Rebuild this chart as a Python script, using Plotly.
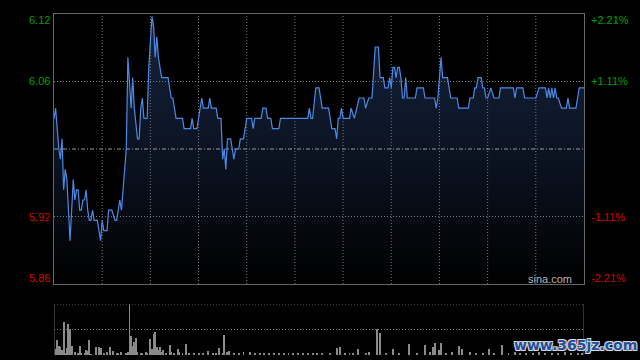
import plotly.graph_objects as go

# ---------------- data ----------------
prev_close = 5.99
pct_span = 0.0221

# minute index from open (HK session, 330 minutes)
price_minutes = [0, 1, 3, 4, 5, 6, 7, 8, 10, 12, 13, 14, 15, 16, 17, 18, 19, 20, 21, 22, 23, 24, 25, 27, 28, 29,
                 30, 31, 33, 34, 36, 38, 39, 40, 41, 42, 43, 45, 46, 48, 49, 50, 52, 53, 54, 55, 56, 58, 59, 61,
                 62, 63, 64, 65, 67, 71, 73, 74, 76, 80, 81, 85, 86, 87, 89, 92, 93, 96, 97, 98, 101, 102, 104,
                 105, 106, 107, 108, 110, 111, 112, 113, 115, 116, 118, 119, 120, 123, 124, 125, 129, 130, 132,
                 133, 135, 136, 140, 141, 158, 159, 160, 161, 163, 165, 167, 171, 173, 175, 176, 177, 178, 179,
                 180, 184, 185, 187, 190, 193, 194, 196, 198, 200, 202, 203, 205, 206, 208, 209, 210, 211, 212,
                 213, 214, 215, 216, 217, 218, 219, 220, 225, 226, 230, 231, 237, 238, 239, 241, 242, 245, 247,
                 251, 252, 258, 259, 261, 262, 263, 264, 266, 267, 268, 269, 270, 272, 274, 277, 278, 286, 287,
                 288, 292, 293, 300, 302, 306, 307, 308, 309, 310, 311, 312, 313, 314, 316, 319, 320, 321, 325,
                 327, 330]
price_values = [6.02, 6.03, 5.99, 5.98, 6.00, 5.95, 5.97, 5.96, 5.90, 5.96, 5.94, 5.95, 5.95, 5.93, 5.93, 5.94,
                5.94, 5.95, 5.93, 5.92, 5.92, 5.93, 5.92, 5.92, 5.91, 5.90,
                5.92, 5.91, 5.91, 5.93, 5.93, 5.92, 5.92, 5.93, 5.94, 5.93, 5.95, 5.99, 6.08, 6.03, 6.06, 6.03,
                6.00, 6.00, 6.03, 6.04, 6.02, 6.02, 6.07, 6.12,
                6.11, 6.08, 6.10, 6.08, 6.06, 6.06, 6.04, 6.04, 6.02, 6.02, 6.01, 6.01, 6.02, 6.01, 6.01, 6.04,
                6.03, 6.03, 6.04, 6.03, 6.03, 6.02, 6.02,
                5.98, 5.99, 5.97, 6.00, 6.00, 5.99, 5.98, 5.99, 5.99, 6.00, 6.00, 6.01, 6.02, 6.02, 6.01, 6.02,
                6.02, 6.03, 6.03,
                6.02, 6.02, 6.01, 6.01, 6.02, 6.02, 6.03, 6.02, 6.02, 6.05, 6.05, 6.03, 6.03, 6.01, 6.01, 6.00,
                6.02, 6.02, 6.03,
                6.02, 6.02, 6.03, 6.02, 6.04, 6.04, 6.03, 6.04, 6.04, 6.09, 6.09, 6.06, 6.06, 6.05, 6.05, 6.06,
                6.05, 6.07, 6.07,
                6.06, 6.07, 6.07, 6.06, 6.04, 6.04, 6.06, 6.04, 6.04, 6.05, 6.05, 6.04, 6.04, 6.03, 6.04, 6.08,
                6.06, 6.06, 6.04,
                6.04, 6.03, 6.03, 6.04, 6.04, 6.05, 6.05, 6.06, 6.06, 6.05, 6.05, 6.04, 6.04, 6.05, 6.04, 6.04,
                6.05, 6.05, 6.04,
                6.05, 6.05, 6.04, 6.04, 6.05, 6.05, 6.04, 6.05, 6.04, 6.05, 6.04, 6.05, 6.04, 6.04, 6.03, 6.03,
                6.04, 6.03, 6.03,
                6.05, 6.05]

vol_minutes = [1, 2, 3, 4, 5, 6, 7, 8, 9, 10, 11, 13, 15, 16, 17, 19, 20, 21, 22, 23, 26, 28, 29, 31, 33, 35,
               37, 39, 40, 42, 45, 46, 47, 48, 49, 50, 51, 52, 54, 55, 57, 58, 60, 61, 62, 63, 64, 65, 66, 67,
               68, 70, 72, 73, 75, 77, 78, 80, 82, 84, 87, 90, 93, 96, 99, 101, 103, 105, 106, 108, 109, 112,
               115, 118, 122, 125, 128, 131, 134, 137, 140, 143, 146, 149, 152, 155, 158, 161, 164, 167, 172,
               176, 178, 181, 184, 186, 189, 194, 196, 201, 203, 207, 211, 215, 221, 226, 231, 234, 236, 237,
               240, 241, 244, 248, 252, 254, 259, 263, 267, 271, 274, 279, 283, 287, 290, 294, 298, 302, 306,
               310, 314, 318, 322, 326, 329]
vol_values = [5.7, 15, 9, 7.7, 5, 33, 2, 6.7, 31, 25.7, 9, 3, 2, 9, 1.7, 2, 5, 4, 15, 1, 7.7, 7.7, 6.7, 2, 3,
              7.7, 4.3, 1.7, 2, 3, 2, 3, 50.7, 19, 9, 13.3, 16.7, 3, 1.7, 2, 3, 2, 15.7, 5.7, 21, 23, 7.7, 5,
              7.7, 3, 5, 1.7, 10, 3, 2, 5.7, 3, 1.7, 11, 2, 1.5, 2, 1.5, 4.3, 1.7, 2, 6.7, 2, 20, 3, 4.3, 2,
              1.5, 3, 3.3, 1.5, 2, 1.5, 2, 1.5, 2, 1.5, 2, 1.5, 2, 1.5, 2, 1.5, 2, 2, 1.7, 6.7, 7.7, 2, 1.5,
              2, 5.7, 2, 3, 25.7, 21.7, 2, 5.7, 2, 11, 2, 10, 3, 7.7, 12.3, 5, 12.3, 2, 3, 9, 5.7, 3, 1.7, 2,
              5.7, 1.7, 10, 2, 3, 2, 2.5, 2, 3, 2, 2.5, 2, 3, 2, 2.5, 2]

left_labels = ["6.12", "6.06", "5.92", "5.86"]
right_labels = ["+2.21%", "+1.11%", "-1.11%", "-2.21%"]

# ---------------- styling / layout ----------------
W, H = 640, 360
X0, X1 = 54, 584
Y_TOP, Y_BOT = 14, 284
V_TOP, V_BOT = 304, 355
session_len = 330

hi = prev_close * (1 + pct_span)
lo = prev_close * (1 - pct_span)
q_hi = prev_close + (hi - prev_close) / 2
q_lo = prev_close - (hi - prev_close) / 2
label_levels = [hi, q_hi, q_lo, lo]

GREEN = "#00a000"
RED = "#d60000"
GRID = "#7a7a7a"
FONT = "Liberation Sans, Arial, sans-serif"

fig = go.Figure()

# fill under price
fig.add_trace(go.Scatter(
    x=price_minutes, y=price_values, mode="lines", line=dict(width=0, color="rgba(0,0,0,0)"),
    fill="tozeroy",
    fillgradient=dict(type="vertical", start=lo, stop=hi,
                      colorscale=[[0, "#000000"], [0.5, "#0c1424"], [1, "#16233d"]]),
    hoverinfo="skip", showlegend=False))

# grid lines (as traces so they sit between fill and price line)
gx, gy = [], []
for m in range(30, session_len, 30):
    gx += [m, m, None]
    gy += [lo, hi, None]
fig.add_trace(go.Scatter(x=gx, y=gy, mode="lines", line=dict(color=GRID, width=1, dash="1px,2px"),
                         hoverinfo="skip", showlegend=False))
fig.add_trace(go.Scatter(x=[0, session_len, None, 0, session_len], y=[q_hi, q_hi, None, q_lo, q_lo],
                         mode="lines", line=dict(color=GRID, width=1, dash="1px,2px"),
                         hoverinfo="skip", showlegend=False))
fig.add_trace(go.Scatter(x=[0, session_len], y=[prev_close, prev_close], mode="lines",
                         line=dict(color="#9a9a9a", width=1, dash="4px,2px,1px,2px"),
                         hoverinfo="skip", showlegend=False))

# price line
fig.add_trace(go.Scatter(x=price_minutes, y=price_values, mode="lines",
                         line=dict(color="#4d8ae6", width=1.2), showlegend=False))

# volume bars
fig.add_trace(go.Bar(x=vol_minutes, y=vol_values, width=0.6, marker=dict(color="#8a8a8a", line=dict(width=0)),
                     xaxis="x2", yaxis="y2", showlegend=False))

xd = [X0 / W, X1 / W]
fig.update_layout(
    width=W, height=H, margin=dict(l=0, r=0, t=0, b=0),
    paper_bgcolor="#000000", plot_bgcolor="#000000",
    showlegend=False,
    xaxis=dict(domain=xd, range=[0, session_len], showgrid=False, zeroline=False, showticklabels=False,
               ticks="", showline=True, mirror=True, linecolor="#666666", linewidth=1, anchor="y"),
    yaxis=dict(domain=[(H - Y_BOT) / H, (H - Y_TOP) / H], range=[lo, hi], showgrid=False, zeroline=False,
               showticklabels=False, ticks="", showline=True, mirror=True, linecolor="#666666", linewidth=1,
               anchor="x"),
    xaxis2=dict(domain=xd, range=[0, session_len], visible=False, anchor="y2"),
    yaxis2=dict(domain=[(H - V_BOT) / H, (H - V_TOP) / H], range=[0, 51], visible=False, anchor="x2"),
    bargap=0,
)

# volume panel frame
shapes = [
    dict(type="line", xref="x2", yref="y2", x0=0, x1=0, y0=0, y1=51, line=dict(color="#666666", width=1)),
    dict(type="line", xref="x2", yref="y2", x0=session_len, x1=session_len, y0=0, y1=51,
         line=dict(color="#666666", width=1)),
    dict(type="line", xref="x2", yref="y2", x0=0, x1=session_len, y0=51, y1=51,
         line=dict(color=GRID, width=1, dash="1px,2px")),
    dict(type="line", xref="x2", yref="y2", x0=0, x1=session_len, y0=25.5, y1=25.5,
         line=dict(color=GRID, width=1, dash="1px,2px")),
]
fig.update_layout(shapes=shapes)

anns = []
anchors = ["top", "middle", "middle", "bottom"]
shifts = [2, 0, 0, -2]
colors = [GREEN, GREEN, RED, RED]
for lab, lev, anc, sh, col in zip(left_labels, label_levels, anchors, shifts, colors):
    anns.append(dict(x=X0 / W, xref="paper", y=lev, yref="y", text=lab, showarrow=False,
                     xanchor="right", yanchor=anc, xshift=-2, yshift=sh,
                     font=dict(family=FONT, size=11, color=col)))
for lab, lev, anc, sh, col in zip(right_labels, label_levels, anchors, shifts, colors):
    anns.append(dict(x=X1 / W, xref="paper", y=lev, yref="y", text=lab, showarrow=False,
                     xanchor="left", yanchor=anc, xshift=5, yshift=sh,
                     font=dict(family=FONT, size=11, color=col)))
anns.append(dict(x=574 / W, xref="paper", y=(H - 279) / H, yref="paper", text="sina.com", showarrow=False,
                 xanchor="right", yanchor="middle", font=dict(family=FONT, size=11, color="#b5b5b5")))
anns.append(dict(x=575 / W, xref="paper", y=(H - 345) / H, yref="paper", text="<b>www.365jz.com</b>",
                 showarrow=False, xanchor="center", yanchor="middle",
                 font=dict(family="DejaVu Sans, sans-serif", size=14, color="#1f4f9c",
                           shadow="1px 1px 0 #d8d8d8, -1px -1px 0 #d8d8d8, 1px -1px 0 #d8d8d8, -1px 1px 0 #d8d8d8")))
fig.update_layout(annotations=anns)

fig.write_html("out.html")
